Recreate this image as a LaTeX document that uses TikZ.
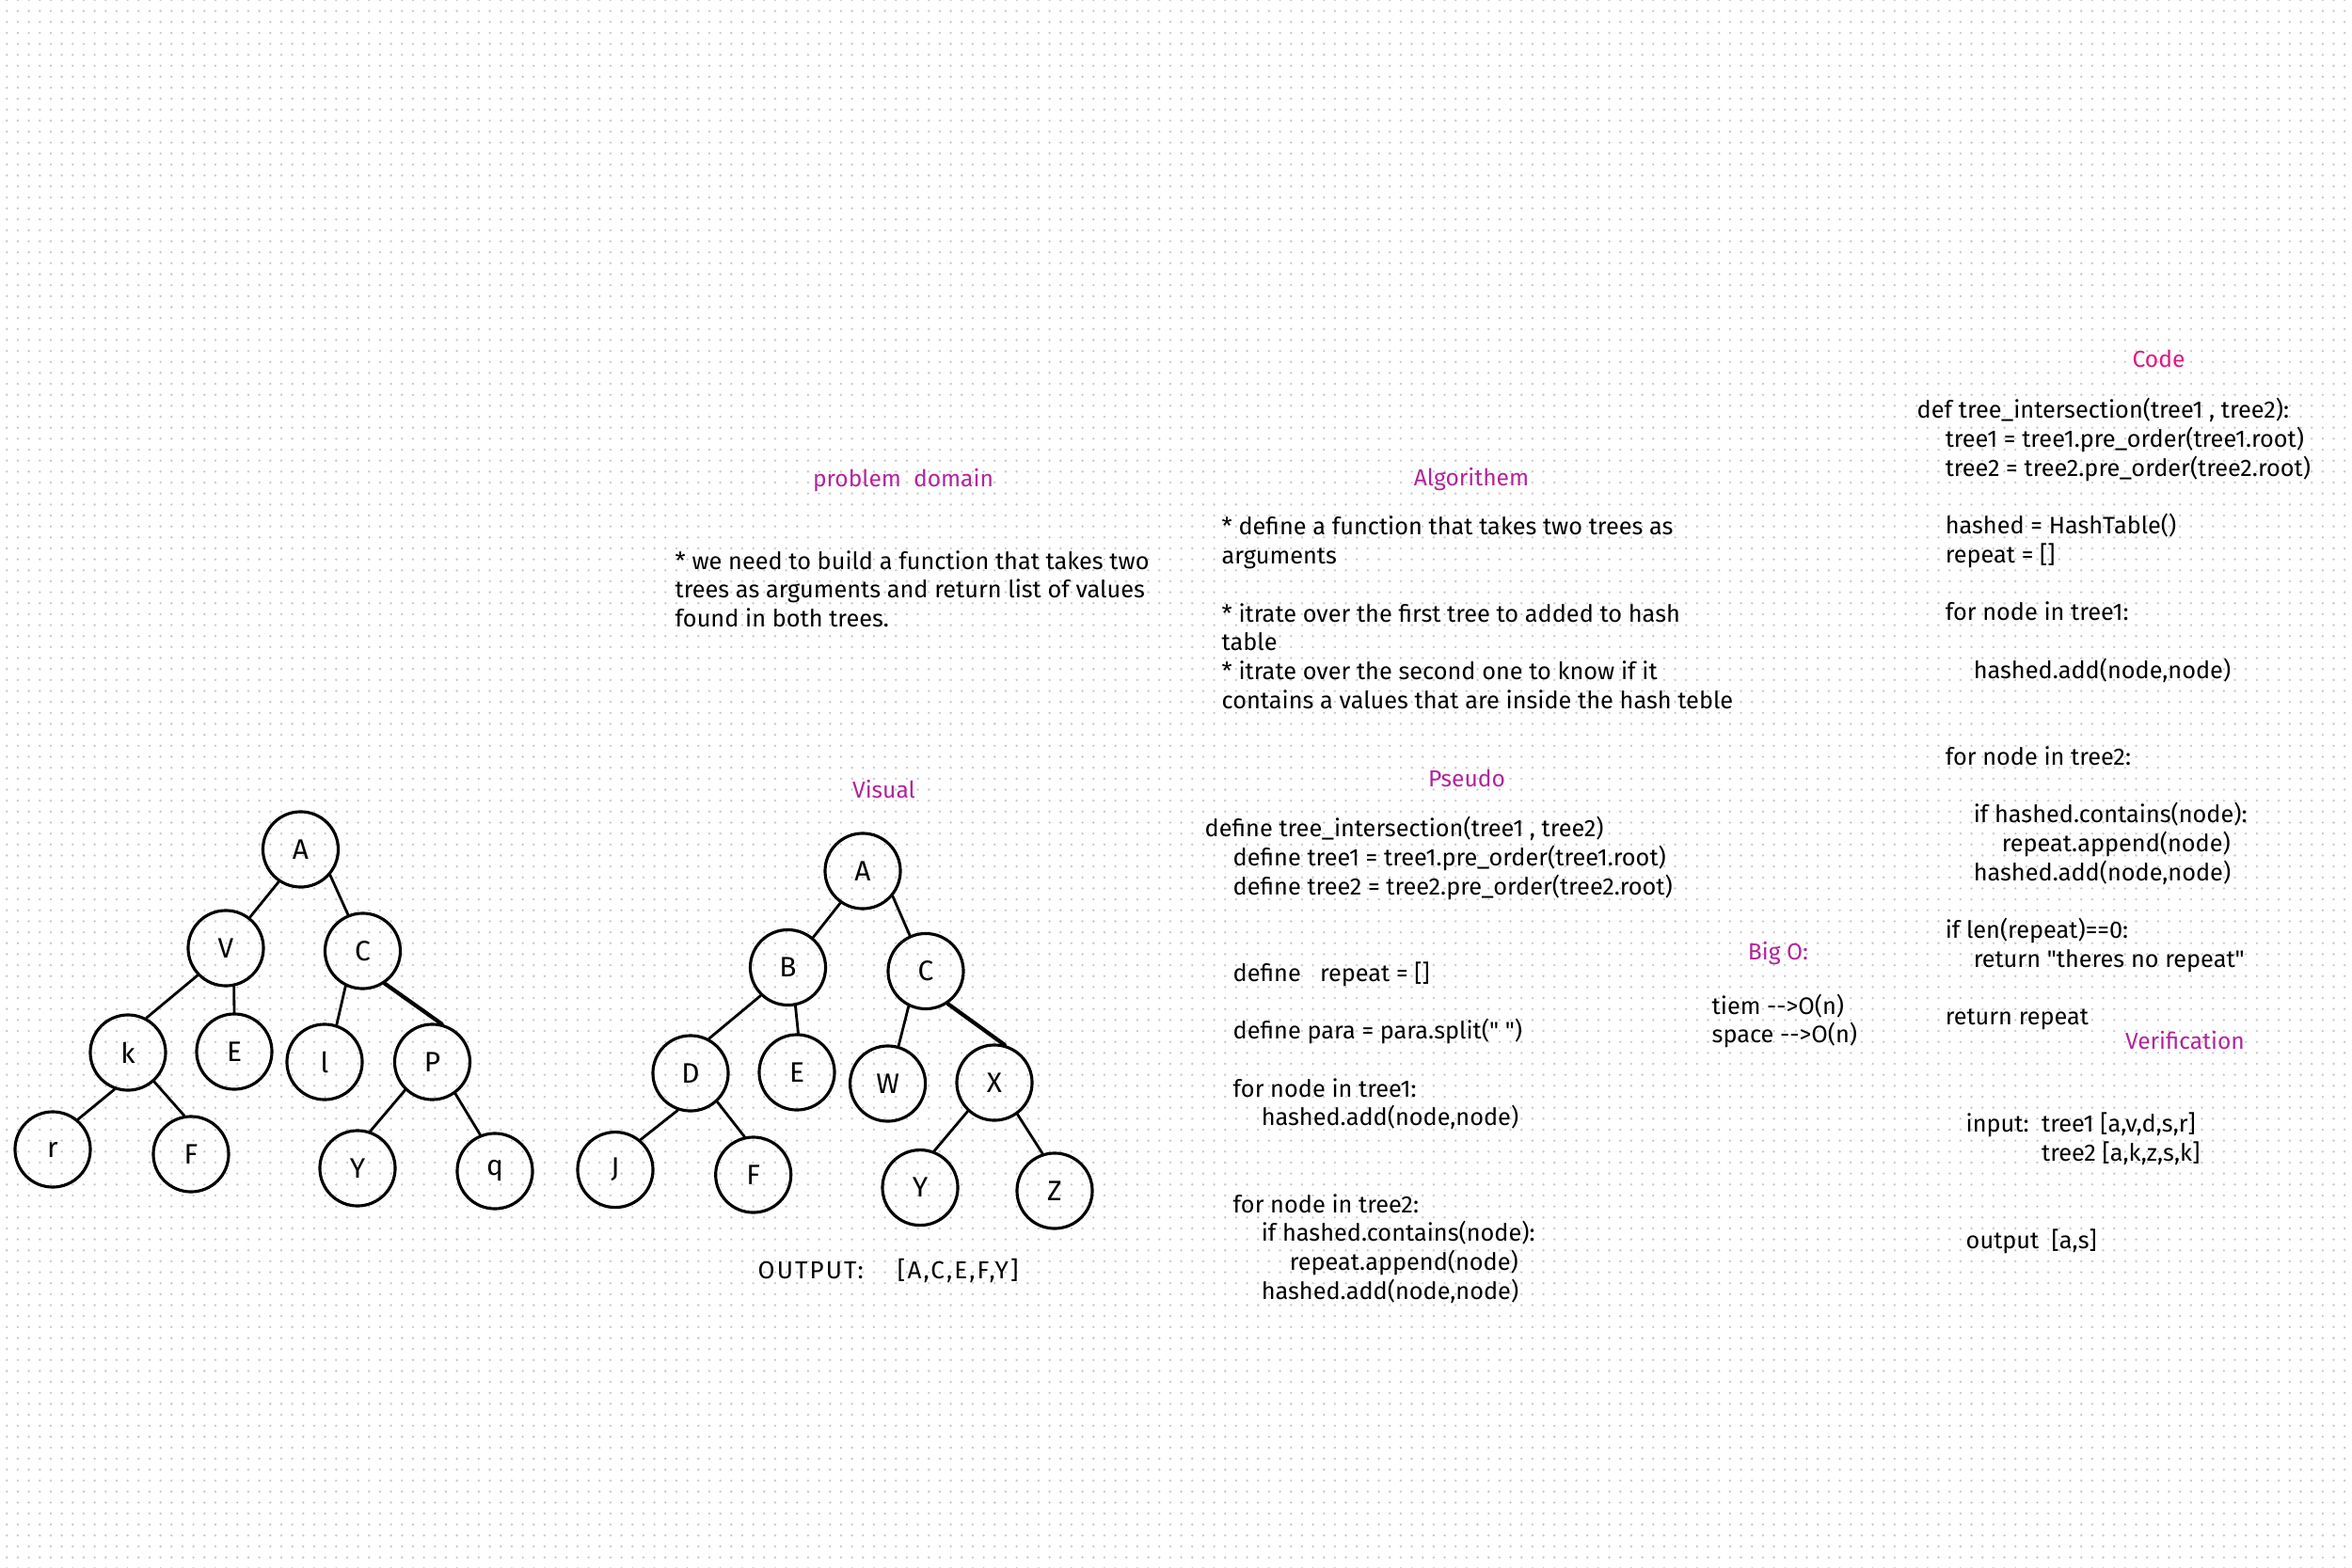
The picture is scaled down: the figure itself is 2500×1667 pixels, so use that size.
\documentclass[tikz,border=0pt]{standalone}
\usepackage{fontspec}
\setmainfont{Fira Sans}
\usepackage{tikz}
\usetikzlibrary{positioning}
\definecolor{headpurple}{RGB}{178,36,155}
\definecolor{codepink}{RGB}{226,22,128}
\definecolor{dotgray}{RGB}{200,200,200}
\newcommand{\tabind}{\hspace*{0.3cm}}

\begin{document}
\begin{tikzpicture}[
    x=0.01cm, y=-0.01cm,
    treenode/.style={circle, draw, line width=0.9pt, minimum size=0.8cm, inner sep=0pt, font=\fontsize{8.5pt}{10pt}\selectfont},
    branch/.style={line width=0.8pt, line cap=round},
    thickbranch/.style={line width=1.2pt, line cap=round},
    heading/.style={anchor=base, text=headpurple, inner sep=0pt, font=\fontsize{7pt}{8.73pt}\selectfont},
    blocktext/.style={anchor=base west, align=left, inner sep=0pt, font=\fontsize{7.2pt}{8.73pt}\selectfont},
    griddot/.style={dotgray, line width=0.75pt, line cap=round, dash pattern=on 0pt off 0.1166cm}
]

% Paper with dot grid
\fill[white] (0,0) rectangle (2500,1667);
\useasboundingbox (0,0) rectangle (2500,1667);
\foreach \row in {0,...,143}
    \draw[griddot] (7.3,\row*11.66) -- (2500,\row*11.66);

% Problem domain (text nodes are placed at the baseline of their last line)
\node[heading] (probtitle) at (960,518) {problem\ \ domain};
\node[blocktext] (probtext) at (717,666.4) {* we need to build a function that takes two\\trees as arguments and return list of values\\found in both trees.};

% Algorithm
\node[heading] (algotitle) at (1564,516) {Algorithem};
\node[blocktext] (algotext) at (1298,753.2) {* define a function that takes two trees as\\arguments\\[0.307cm]{}* itrate over the first tree to added to hash\\table\\{}* itrate over the second one to know if it\\contains a values that are inside the hash teble};

% Pseudo code
\node[heading] (pseudotitle) at (1559,836) {Pseudo};
\node[blocktext] (pseudotext) at (1280,1381.2) {define tree\_intersection(tree1 , tree2)\\
\tabind define tree1 = tree1.pre\_order(tree1.root)\\
\tabind define tree2 = tree2.pre\_order(tree2.root)\\[0.614cm]
\tabind define\ \ \ repeat = []\\[0.307cm]
\tabind define para = para.split(\textquotedbl\ \textquotedbl)\\[0.307cm]
\tabind for node in tree1:\\
\tabind\tabind hashed.add(node,node)\\[0.614cm]
\tabind for node in tree2:\\
\tabind\tabind if hashed.contains(node):\\
\tabind\tabind\tabind repeat.append(node)\\
\tabind\tabind hashed.add(node,node)};

% Big O
\node[heading] (bigotitle) at (1890,1020) {Big O:};
\node[blocktext] (bigotext) at (1819,1108.7) {tiem -{}->O(n)\\space -{}->O(n)};

% Code
\node[heading, text=codepink] (codetitle) at (2294.5,391) {Code};
\node[blocktext] (codetext) at (2037,1089.7) {def tree\_intersection(tree1 , tree2):\\
\tabind tree1 = tree1.pre\_order(tree1.root)\\
\tabind tree2 = tree2.pre\_order(tree2.root)\\[0.307cm]
\tabind hashed = HashTable()\\
\tabind repeat = []\\[0.307cm]
\tabind for node in tree1:\\[0.307cm]
\tabind\tabind hashed.add(node,node)\\[0.614cm]
\tabind for node in tree2:\\[0.307cm]
\tabind\tabind if hashed.contains(node):\\
\tabind\tabind\tabind repeat.append(node)\\
\tabind\tabind hashed.add(node,node)\\[0.307cm]
\tabind if len(repeat)==0:\\
\tabind\tabind return \textquotedbl theres no repeat\textquotedbl\\[0.307cm]
\tabind return repeat};

% Verification
\node[heading] (veriftitle) at (2322.5,1115) {Verification};
\node[blocktext] (verifinput) at (2089,1234.5) {input:\ \ tree1 [a,v,d,s,r]\\\phantom{input:\ \ }tree2 [a,k,z,s,k]};
\node[blocktext] (verifoutput) at (2089,1327) {output\ \ [a,s]};

% Tree 1
\node[treenode] (a1) at (319.5,903) {A};
\node[treenode] (v1) at (240,1008) {V};
\node[treenode] (c1) at (385.5,1011) {C};
\node[treenode] (k1) at (136,1119) {k};
\node[treenode] (e1) at (249,1118) {E};
\node[treenode] (l1) at (345,1129) {l};
\node[treenode] (p1) at (459.5,1129) {P};
\node[treenode] (r1) at (56,1222) {r};
\node[treenode] (f1) at (203,1227) {F};
\node[treenode] (y1) at (380,1242) {Y};
\node[treenode] (q1) at (526,1245) {q};

\draw[branch] (a1.-124) -- (v1.52);
\draw[branch] (a1.-41) -- (c1.112);
\draw[branch] (v1.-136) -- (k1.62);
\draw[branch] (v1.-78) -- (e1.90);
\draw[branch] (c1.-116) -- (l1.72);
\draw[thickbranch] (c1.-56) -- (p1.76);
\draw[branch] (k1.-110) -- (r1.50);
\draw[branch] (k1.-48) -- (f1.100);
\draw[branch] (p1.-134) -- (y1.71);
\draw[branch] (p1.-54) -- (q1.112);

% Tree 2 (visual)
\node[heading] (visualtitle) at (939.5,848) {Visual};
\node[treenode] (a2) at (917,926) {A};
\node[treenode] (b2) at (837.5,1028.5) {B};
\node[treenode] (c2) at (984,1032.5) {C};
\node[treenode] (d2) at (734,1141) {D};
\node[treenode] (e2) at (847,1140) {E};
\node[treenode] (w2) at (943.6,1152) {W};
\node[treenode] (x2) at (1057,1151) {X};
\node[treenode] (j2) at (654,1243.6) {J};
\node[treenode] (f2) at (800.7,1249) {F};
\node[treenode] (y2) at (978,1262.6) {Y};
\node[treenode] (z2) at (1121,1266) {Z};

\draw[branch] (a2.-125) -- (b2.50);
\draw[branch] (a2.-40) -- (c2.114);
\draw[branch] (b2.-134) -- (d2.62);
\draw[branch] (b2.-79) -- (e2.88);
\draw[branch] (c2.-116) -- (w2.74);
\draw[thickbranch] (c2.-56) -- (x2.75);
\draw[branch] (d2.-109) -- (j2.50);
\draw[branch] (d2.-47) -- (f2.103);
\draw[branch] (x2.-133) -- (y2.69);
\draw[branch] (x2.-54) -- (z2.108);

\node[blocktext, font=\fontsize{7.4pt}{9pt}\selectfont\addfontfeatures{LetterSpace=8}] (outputtext) at (805,1359.5) {OUTPUT:\ \ \ \ [A,C,E,F,Y]};

\end{tikzpicture}
\end{document}
